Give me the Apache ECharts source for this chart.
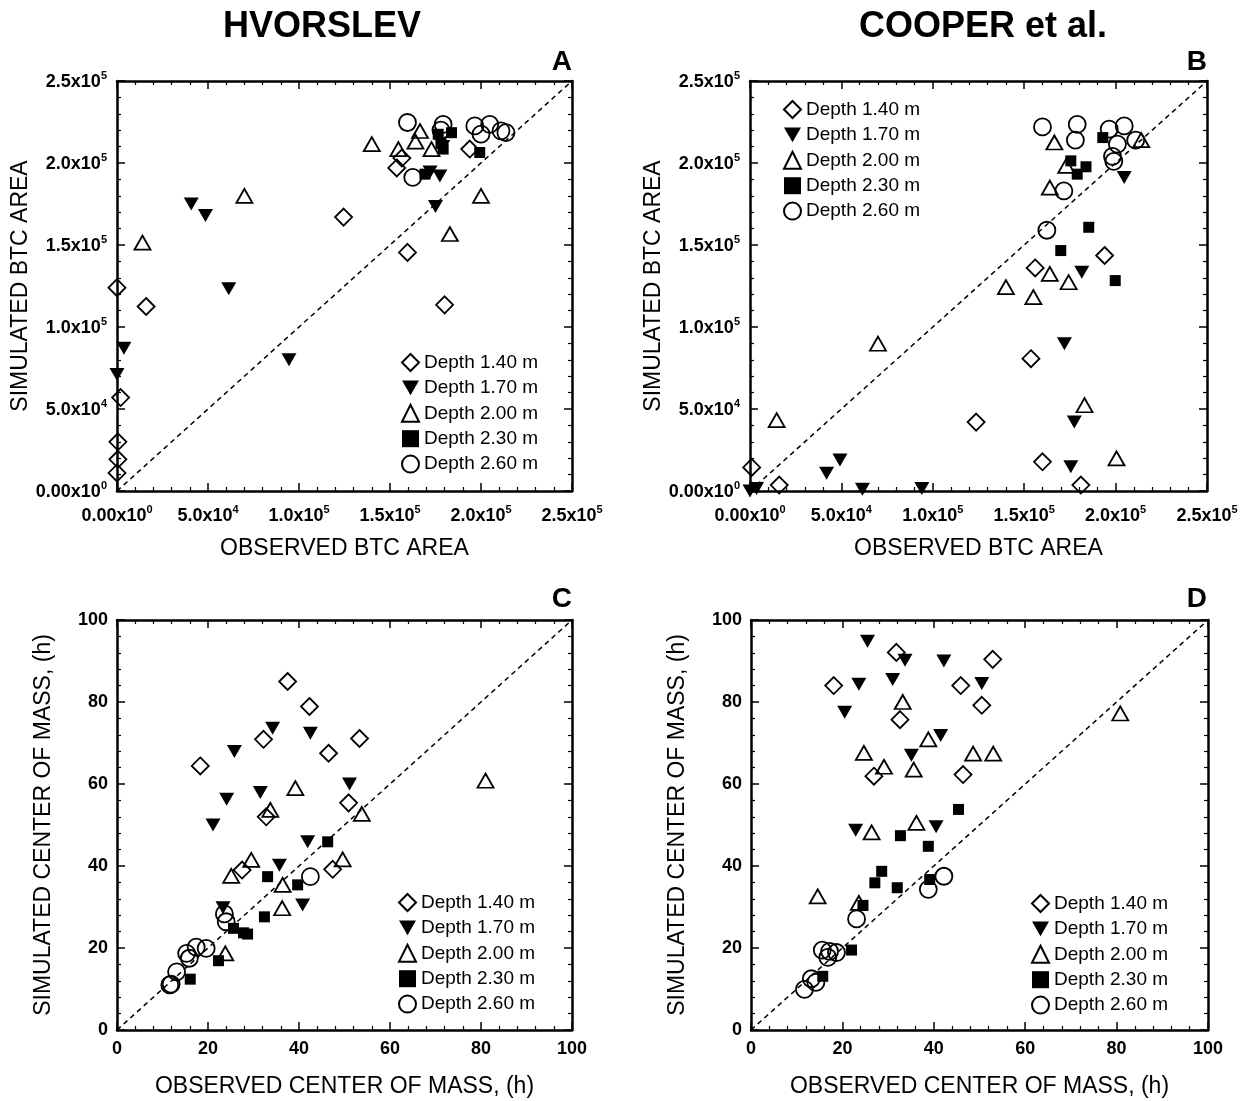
<!DOCTYPE html>
<html>
<head>
<meta charset="utf-8">
<title>BTC area and center of mass</title>
<script src="https://cdn.jsdelivr.net/npm/echarts@6/dist/echarts.min.js"></script>
<style>
html, body { margin: 0; padding: 0; background: #fff; }
#main { width: 1248px; height: 1101px; }
</style>
</head>
<body>
<div id="main"></div>
<script>
var depthNames = ['Depth 1.40 m', 'Depth 1.70 m', 'Depth 2.00 m', 'Depth 2.30 m', 'Depth 2.60 m'];

// tick labels
var btcTickMant = ['0.00x10', '5.0x10', '1.0x10', '1.5x10', '2.0x10', '2.5x10'];
var btcTickExp = ['0', '4', '5', '5', '5', '5'];
var comTicks = ['0', '20', '40', '60', '80', '100'];

// 1:1 lines
var btcLine = [[0, 0], [250000, 250000]];
var comLine = [[0, 0], [100, 100]];

// A - HVORSLEV, BTC area [observed, simulated]
var hvBtc140 = [[0, 124000], [16000, 112500], [2000, 57000], [500, 30000], [500, 19300], [0, 11000],
  [124500, 167000], [156500, 203000], [153700, 197000], [159600, 145500], [180000, 113500], [193800, 208500]];
var hvBtc170 = [[40800, 175000], [48600, 168000], [61400, 123300], [3800, 87000], [0, 71000], [94500, 80000],
  [172000, 194500], [177400, 192000], [175000, 173500], [179000, 210000]];
var hvBtc200 = [[14000, 151500], [70000, 180000], [140000, 211500], [166500, 219500], [164000, 213000],
  [154600, 208500], [172800, 208500], [200000, 180000], [182900, 156700]];
var hvBtc230 = [[169200, 193200], [176500, 217500], [183800, 218500], [179200, 208500], [199300, 206400], [178000, 212000]];
var hvBtc260 = [[159600, 224700], [162500, 191200], [179200, 223600], [196600, 222600], [204800, 223600],
  [211000, 219600], [200000, 217600], [213700, 218500], [178000, 220000]];

// B - COOPER et al., BTC area
var cpBtc140 = [[900, 14400], [16000, 3600], [123700, 42000], [194000, 143600], [156000, 136000],
  [153700, 80700], [160000, 17800], [181000, 3600]];
var cpBtc170 = [[0, 0], [3600, 1600], [41900, 10800], [49200, 18900], [61500, 1000], [94000, 1600],
  [204700, 191200], [181500, 133400], [172000, 89800], [177400, 42000], [175500, 14800]];
var cpBtc200 = [[14600, 43200], [70000, 89800], [166500, 212500], [173000, 198300], [164000, 185000],
  [164000, 132400], [174300, 127300], [140000, 124300], [155000, 118200], [183000, 52300], [200500, 19900], [214000, 214000]];
var cpBtc230 = [[193000, 215500], [175500, 201300], [183800, 197700], [179000, 193200], [185300, 160800],
  [170000, 146600], [199800, 128300]];
var cpBtc260 = [[160000, 222000], [179000, 223600], [178000, 214000], [196500, 220600], [204700, 222600],
  [201000, 211500], [211000, 213900], [198300, 204000], [199000, 201000], [171700, 183000], [162400, 159000]];

// C - HVORSLEV, center of mass (h)
var hvCom140 = [[37.5, 85.0], [42.3, 78.9], [46.5, 67.5], [32.2, 70.9], [18.3, 64.4], [32.8, 52.0],
  [47.4, 39.2], [27.5, 39.0], [53.3, 71.1], [50.9, 55.4]];
var hvCom170 = [[34.2, 73.6], [42.5, 72.4], [25.8, 67.9], [24.1, 56.3], [31.5, 57.9], [21.1, 50.0],
  [41.9, 45.9], [35.7, 40.2], [40.8, 30.5], [23.3, 29.8], [51.1, 60.0]];
var hvCom200 = [[39.2, 59.0], [33.7, 53.7], [29.5, 41.5], [25.1, 37.6], [36.4, 35.4], [36.3, 29.7],
  [23.8, 18.7], [53.8, 52.7], [81.0, 60.8], [49.6, 41.6]];
var hvCom230 = [[46.3, 45.9], [33.1, 37.4], [39.7, 35.4], [32.4, 27.6], [25.6, 24.8], [27.8, 23.7],
  [28.7, 23.4], [22.3, 16.9], [16.1, 12.4]];
var hvCom260 = [[42.5, 37.4], [23.6, 28.3], [24.0, 26.4], [17.4, 20.2], [19.6, 19.9], [15.3, 18.7],
  [15.9, 17.5], [13.1, 14.2], [11.9, 11.2], [11.6, 11.0]];

// D - COOPER et al., center of mass (h)
var cpCom140 = [[31.8, 92.1], [18.1, 84.0], [45.9, 84.0], [32.6, 75.7], [50.5, 79.2], [52.9, 90.4],
  [26.9, 61.9], [46.4, 62.3]];
var cpCom170 = [[25.5, 94.8], [33.7, 90.2], [42.2, 90.0], [23.6, 84.3], [31.0, 85.5], [50.5, 84.5],
  [20.5, 77.5], [41.5, 71.8], [35.1, 67.0], [22.9, 48.7], [40.5, 49.6]];
var cpCom200 = [[33.2, 80.0], [38.8, 70.9], [24.7, 67.6], [35.6, 63.5], [29.1, 64.2], [48.6, 67.4],
  [53.0, 67.4], [26.4, 48.2], [36.2, 50.5], [14.6, 32.6], [23.6, 31.0], [80.8, 77.2]];
var cpCom230 = [[45.4, 53.8], [32.7, 47.4], [38.8, 44.8], [28.6, 38.7], [27.1, 35.9], [32.0, 34.7],
  [39.1, 36.7], [24.5, 30.4], [22.0, 19.5], [15.7, 13.1]];
var cpCom260 = [[42.2, 37.5], [38.8, 34.3], [23.1, 27.1], [15.6, 19.5], [17.2, 19.2], [18.7, 18.9],
  [16.8, 17.7], [13.2, 12.5], [14.2, 11.6], [11.7, 9.9]];

var FONT = 'Liberation Sans';

// marker look per depth
var markStyles = [
  { symbol: 'diamond', size: 17, filled: false },
  { symbol: 'path://M0,0L12,0L6,10.4Z', size: [15, 13], filled: true },
  { symbol: 'triangle', size: [16, 14], filled: false },
  { symbol: 'rect', size: 11, filled: true },
  { symbol: 'circle', size: 17, filled: false }
];

function scatter(k, data, gi) {
  var st = markStyles[k];
  return {
    name: depthNames[k],
    type: 'scatter',
    xAxisIndex: gi,
    yAxisIndex: gi,
    symbol: st.symbol,
    symbolSize: st.size,
    data: data,
    z: 3,
    itemStyle: st.filled ? { color: '#000', borderWidth: 0, opacity: 1 }
      : { color: 'rgba(255,255,255,0)', borderColor: '#000', borderWidth: 1.8, opacity: 1 },
    emphasis: { disabled: true }
  };
}

function diag(data, gi) {
  return {
    type: 'line', xAxisIndex: gi, yAxisIndex: gi, data: data,
    symbol: 'none', silent: true, z: 1,
    lineStyle: { color: '#000', width: 1.5, type: [5, 4] }
  };
}

function btcLabel(v) {
  var i = Math.round(v / 50000);
  return '{m|' + btcTickMant[i] + '}{e|' + btcTickExp[i] + '}';
}
function comLabel(v) {
  return comTicks[Math.round(v / 20)];
}

var labelRich = {
  m: { fontSize: 18, fontWeight: 'bold', fontFamily: FONT, color: '#000', lineHeight: 21, verticalAlign: 'bottom' },
  e: { fontSize: 11, fontWeight: 'bold', fontFamily: FONT, color: '#000', lineHeight: 12, verticalAlign: 'top' }
};

function axis(dim, gi, isBtc, mirror, name, nameGap, labelMargin) {
  var a = {
    type: 'value',
    gridIndex: gi,
    position: dim === 'x' ? (mirror ? 'top' : 'bottom') : (mirror ? 'right' : 'left'),
    min: 0,
    max: isBtc ? 250000 : 100,
    interval: isBtc ? 50000 : 20,
    splitLine: { show: false },
    axisLine: { show: true, onZero: false, lineStyle: { color: '#000', width: 2.5 } },
    axisTick: { show: true, inside: true, length: 8, lineStyle: { color: '#000', width: 1.5 } },
    minorTick: { show: true, splitNumber: 5, length: 4, lineStyle: { color: '#000', width: 1.2 } },
    axisLabel: { show: !mirror, margin: labelMargin, color: '#000', fontSize: 18, fontWeight: 'bold', fontFamily: FONT,
      formatter: isBtc ? btcLabel : comLabel, rich: labelRich, hideOverlap: false, showMinLabel: true, showMaxLabel: true }
  };
  if (!mirror) {
    a.name = name;
    a.nameLocation = 'middle';
    a.nameGap = nameGap;
    a.nameTextStyle = { color: '#000', fontSize: 23, fontFamily: FONT };
  }
  return a;
}

var grids = [
  { left: 117, top: 81, width: 455, height: 410 },
  { left: 750, top: 81, width: 457, height: 410 },
  { left: 117, top: 620, width: 455, height: 410 },
  { left: 751, top: 620, width: 457, height: 410 }
];

var xAxes = [
  axis('x', 0, true, false, 'OBSERVED BTC AREA', 46, 13),
  axis('x', 1, true, false, 'OBSERVED BTC AREA', 46, 13),
  axis('x', 2, false, false, 'OBSERVED CENTER OF MASS, (h)', 45, 10),
  axis('x', 3, false, false, 'OBSERVED CENTER OF MASS, (h)', 45, 10),
  axis('x', 0, true, true), axis('x', 1, true, true), axis('x', 2, false, true), axis('x', 3, false, true)
];
var yAxes = [
  axis('y', 0, true, false, 'SIMULATED BTC AREA', 84, 10),
  axis('y', 1, true, false, 'SIMULATED BTC AREA', 84, 10),
  axis('y', 2, false, false, 'SIMULATED CENTER OF MASS, (h)', 62, 9),
  axis('y', 3, false, false, 'SIMULATED CENTER OF MASS, (h)', 62, 9),
  axis('y', 0, true, true), axis('y', 1, true, true), axis('y', 2, false, true), axis('y', 3, false, true)
];

var panelData = [
  [hvBtc140, hvBtc170, hvBtc200, hvBtc230, hvBtc260],
  [cpBtc140, cpBtc170, cpBtc200, cpBtc230, cpBtc260],
  [hvCom140, hvCom170, hvCom200, hvCom230, hvCom260],
  [cpCom140, cpCom170, cpCom200, cpCom230, cpCom260]
];
var series = [];
panelData.forEach(function (sets, gi) {
  series.push(diag(gi < 2 ? btcLine : comLine, gi));
  sets.forEach(function (d, k) { series.push(scatter(k, d, gi)); });
});

function legendAt(left, top) {
  return {
    data: depthNames, orient: 'vertical', left: left, top: top,
    itemWidth: 17, itemHeight: 17, itemGap: 6.4, selectedMode: false, padding: 0,
    textStyle: { color: '#000', fontSize: 19, fontFamily: FONT, lineHeight: 17 }
  };
}

function label(text, x, y, size, align) {
  return {
    type: 'text', x: x, y: y, silent: true,
    style: { text: text, fill: '#000', font: 'bold ' + size + 'px "' + FONT + '"',
      textAlign: align, textVerticalAlign: 'middle' }
  };
}

var chart = echarts.init(document.getElementById('main'), null, { renderer: 'canvas' });
chart.setOption({
  backgroundColor: '#fff',
  animation: false,
  grid: grids,
  xAxis: xAxes,
  yAxis: yAxes,
  legend: [legendAt(401, 353), legendAt(783, 100), legendAt(398, 893), legendAt(1031, 894)],
  graphic: [
    label('HVORSLEV', 322, 27, 36, 'center'),
    label('COOPER et al.', 983, 27, 36, 'center'),
    label('A', 572, 62, 28, 'right'),
    label('B', 1207, 62, 28, 'right'),
    label('C', 572, 599, 28, 'right'),
    label('D', 1207, 599, 28, 'right')
  ],
  series: series
});
</script>
</body>
</html>
